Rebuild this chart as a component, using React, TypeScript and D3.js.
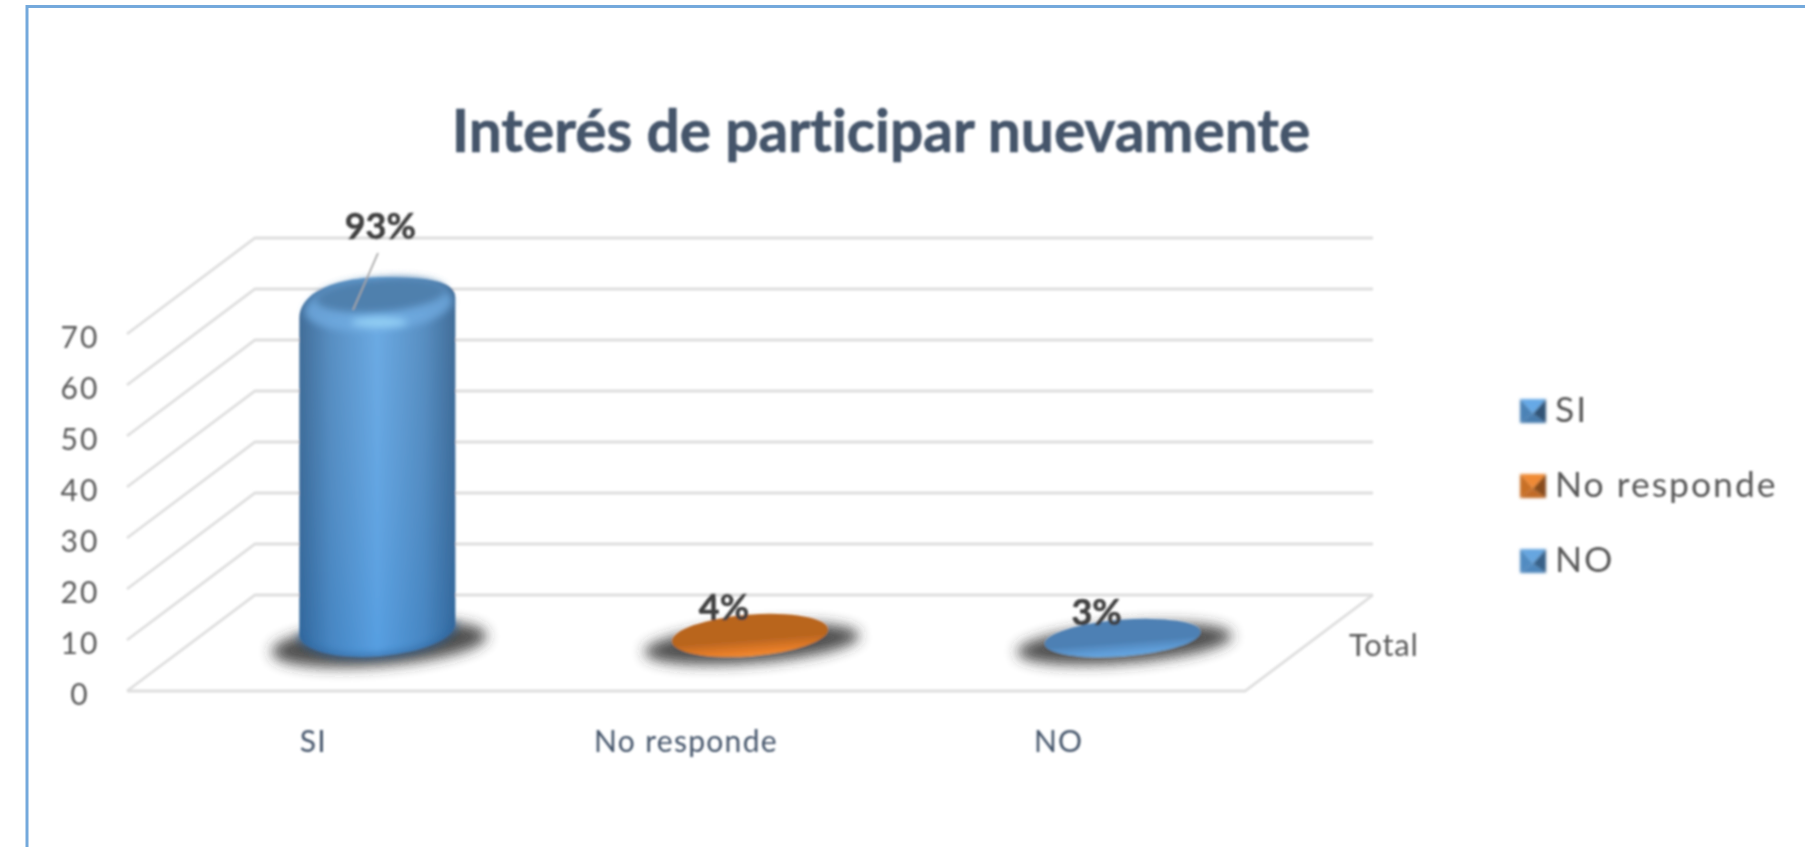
import React from "react";
import * as d3 from "d3";

// values
const categories = ["SI", "No responde", "NO"];
const counts = [67, 3, 2];
const percentLabels = ["93%", "4%", "3%"];
const yTicks = [0, 10, 20, 30, 40, 50, 60, 70];
const depthLabel = "Total";
const chartTitle = "Interés de participar nuevamente";

const palette: Record<string, { edge: string; mid: string; face: string; rim: string }> = {
  SI: { edge: "#35628f", mid: "#66a9e6", face: "#5080ad", rim: "#2f659c" },
  "No responde": { edge: "#a85a1c", mid: "#f08a35", face: "#b9651f", rim: "#e57c28" },
  NO: { edge: "#3f74a8", mid: "#66a6e0", face: "#4d80b4", rim: "#5f9dd8" },
};

const FONT = "Lato, 'Open Sans', sans-serif";
const TILT = -4.5;
const RX = 78;

// front plane of the floor, the back wall sits one depth step behind it
const depthX = 128;
const depthY = 96;
const floorLeft = 127;
const floorRight = 1245;

const y = d3.scaleLinear().domain([0, 70]).range([691, 334]);
const xFront = d3.scaleBand<string>().domain(categories).range([floorLeft, floorRight]);
const xMid = d3
  .scaleBand<string>()
  .domain(categories)
  .range([floorLeft + depthX / 2, floorRight + depthX / 2]);

const floorY = 646;
const tan = Math.tan((TILT * Math.PI) / 180);

function Shadow({ cx, tall }: { cx: number; tall: boolean }) {
  return (
    <ellipse
      cx={cx + 2}
      cy={floorY - 2}
      rx={RX + 30}
      ry={tall ? 22 : 19}
      fill="#2e2e2e"
      opacity={0.85}
      filter="url(#shadowBlur)"
      transform={`rotate(${TILT} ${cx} ${floorY})`}
    />
  );
}

function Cylinder({ cat, value }: { cat: string; value: number }) {
  const cx = xMid(cat)! + xMid.bandwidth() / 2;
  const ry = 27;
  const topCy = floorY - (y(0) - y(value));
  const botCy = floorY + 10 - ry;
  const dy = RX * tan;
  const id = cat.replace(/\s/g, "");
  const c = palette[cat];

  // the cap has a rounded bevel, so its shoulders are squarer than an ellipse
  const p = d3.path();
  p.moveTo(cx - RX, topCy + 14);
  p.bezierCurveTo(cx - RX, topCy - 12, cx - 42, topCy - 27, cx + 6, topCy - 27);
  p.bezierCurveTo(cx + 48, topCy - 27, cx + RX, topCy - 24, cx + RX, topCy - 7);
  p.lineTo(cx + RX, botCy + dy);
  const outline = `${p.toString()} A${RX},${ry} ${TILT} 1 1 ${cx - RX},${botCy - dy} Z`;

  return (
    <g>
      <Shadow cx={cx} tall />
      <path d={outline} fill={`url(#body-${id})`} />
      <path d={outline} fill="url(#tint)" />
      <path
        d={`M${cx + RX},${botCy + dy} A${RX},${ry} ${TILT} 0 1 ${cx - RX},${botCy - dy}`}
        fill="none"
        stroke={c.rim}
        strokeWidth={4}
        filter="url(#capBlur)"
      />
      <ellipse
        cx={cx + 1}
        cy={topCy + 2}
        rx={RX - 4}
        ry={ry - 2}
        fill="#72ade3"
        opacity={0.75}
        filter="url(#capBlur)"
        transform={`rotate(${TILT} ${cx} ${topCy})`}
      />
      <ellipse
        cx={cx + 4}
        cy={topCy - 9}
        rx={RX - 13}
        ry={17}
        fill={c.face}
        filter="url(#capBlur)"
        transform={`rotate(${TILT} ${cx} ${topCy})`}
      />
      <ellipse cx={cx + 2} cy={topCy + 18} rx={28} ry={5} fill="#9ad6f8" opacity={0.85} filter="url(#capBlur)" />
    </g>
  );
}

function Disc({ cat, value }: { cat: string; value: number }) {
  const cx = xMid(cat)! + xMid.bandwidth() / 2;
  const top = floorY - (y(0) - y(value)) - 17;
  const bottom = floorY + 11;
  const cy = (top + bottom) / 2;
  const ry = (bottom - top) / 2 - 1;
  const id = cat.replace(/\s/g, "");
  return (
    <g>
      <Shadow cx={cx} tall={false} />
      <ellipse
        cx={cx}
        cy={cy}
        rx={RX}
        ry={ry}
        fill={`url(#disc-${id})`}
        transform={`rotate(${TILT} ${cx} ${cy})`}
      />
    </g>
  );
}

function LegendKey({ cat, top }: { cat: string; top: number }) {
  const c = palette[cat];
  const x0 = 1520;
  const w = 26;
  const h = 24;
  const m = [x0 + w * 0.5, top + h * 0.6];
  const tl = [x0, top];
  const tr = [x0 + w, top];
  const br = [x0 + w, top + h];
  const bl = [x0, top + h];
  const tri = (a: number[], b: number[]) => [a, b, m].map((p) => p.join(",")).join(" ");
  return (
    <g filter="url(#keyBlur)">
      <polygon points={tri(tl, tr)} fill={c.mid} />
      <polygon points={tri(bl, tl)} fill={d3.interpolateRgb(c.edge, c.mid)(0.45)} />
      <polygon points={tri(br, bl)} fill={d3.interpolateRgb(c.edge, c.mid)(0.35)} />
      <polygon points={tri(tr, br)} fill={d3.interpolateRgb(c.edge, "#222")(0.25)} />
    </g>
  );
}

const legendTops = [399, 474, 549];

export default function App() {
  return (
    <svg width={1805} height={847} style={{ position: "absolute", left: 0, top: 0, background: "#fff" }}>
      <defs>
        <filter id="soft" x="-5%" y="-5%" width="110%" height="110%">
          <feGaussianBlur stdDeviation={0.85} />
        </filter>
        <filter id="keyBlur" x="-30%" y="-30%" width="160%" height="160%">
          <feGaussianBlur stdDeviation={1.2} />
        </filter>
        <filter id="shadowBlur" x="-30%" y="-80%" width="160%" height="260%">
          <feGaussianBlur stdDeviation={7} />
        </filter>
        <filter id="capBlur" x="-30%" y="-60%" width="160%" height="220%">
          <feGaussianBlur stdDeviation={3.5} />
        </filter>
        {categories.map((cat) => {
          const c = palette[cat];
          const id = cat.replace(/\s/g, "");
          return (
            <React.Fragment key={cat}>
              <linearGradient id={`body-${id}`} x1="0" x2="1" y1="0" y2="0">
                <stop offset="0" stopColor={c.edge} />
                <stop offset="0.2" stopColor={d3.interpolateRgb(c.edge, c.mid)(0.55)} />
                <stop offset="0.5" stopColor={c.mid} />
                <stop offset="0.8" stopColor={d3.interpolateRgb(c.edge, c.mid)(0.55)} />
                <stop offset="1" stopColor={c.edge} />
              </linearGradient>
              <linearGradient id={`disc-${id}`} x1="0" x2="0" y1="0" y2="1">
                <stop offset="0" stopColor={c.face} />
                <stop offset="0.6" stopColor={c.face} />
                <stop offset="0.88" stopColor={c.rim} />
                <stop offset="1" stopColor={c.mid} />
              </linearGradient>
            </React.Fragment>
          );
        })}
        <linearGradient id="tint" x1="0" x2="0" y1="0" y2="1">
          <stop offset="0" stopColor="#9fb9d0" stopOpacity={0.12} />
          <stop offset="1" stopColor="#1f78d0" stopOpacity={0.22} />
        </linearGradient>
      </defs>

      <rect x={27} y={6.5} width={1900} height={1000} fill="none" stroke="#74a9dc" strokeWidth={3} />

      <g filter="url(#soft)" style={{ fontVariantLigatures: "none" }}>
        <text
          x={881}
          y={152}
          textAnchor="middle"
          fontFamily={FONT}
          fontWeight={700}
          fontSize={58.6}
          stroke="#44546a"
          strokeWidth={0.6}
          fill="#44546a"
        >
          {chartTitle}
        </text>

        {/* walls and floor */}
        <g stroke="#dedede" strokeWidth={2.8} fill="none">
          {yTicks.map((t) => (
            <polyline
              key={t}
              points={`${floorLeft},${y(t)} ${floorLeft + depthX},${y(t) - depthY} ${floorRight + depthX},${y(t) - depthY}`}
            />
          ))}
          <polyline
            points={`${floorLeft},${y(0)} ${floorRight},${y(0)} ${floorRight + depthX},${y(0) - depthY}`}
          />
        </g>

        {yTicks.map((t) => (
          <text
            key={t}
            x={80}
            y={y(t) + 3}
            dy="0.36em"
            textAnchor="middle"
            fontFamily={FONT}
            fontSize={30}
            letterSpacing={2}
            fill="#595959"
          >
            {t}
          </text>
        ))}

        {categories.map((cat) => (
          <text
            key={cat}
            x={xFront(cat)! + xFront.bandwidth() / 2}
            y={752}
            textAnchor="middle"
            fontFamily={FONT}
            fontSize={30}
            letterSpacing={1.3}
            fill="#44546a"
          >
            {cat}
          </text>
        ))}

        <text x={1349} y={656} fontFamily={FONT} fontSize={31} letterSpacing={0.8} fill="#595959">
          {depthLabel}
        </text>

        {categories.map((cat, i) =>
          counts[i] > 10 ? (
            <Cylinder key={cat} cat={cat} value={counts[i]} />
          ) : (
            <Disc key={cat} cat={cat} value={counts[i]} />
          ),
        )}

        {/* 93% sits on a leader line, the two small ones sit on their discs */}
        <line x1={378} y1={253} x2={353} y2={310} stroke="#a6a6a6" strokeWidth={1.8} />
        {categories.map((cat, i) => {
          const cx = xMid(cat)! + xMid.bandwidth() / 2;
          const lift = i === 0 ? 78 : 24;
          return (
            <text
              key={cat}
              x={cx + (i === 0 ? 3 : -26)}
              y={floorY - (y(0) - y(counts[i])) - lift}
              dy="0.36em"
              textAnchor="middle"
              fontFamily={FONT}
              fontWeight={700}
              fontSize={36}
              stroke="#404040"
              strokeWidth={0.5}
              fill="#404040"
            >
              {percentLabels[i]}
            </text>
          );
        })}

        {categories.map((cat, i) => (
          <g key={cat}>
            <LegendKey cat={cat} top={legendTops[i]} />
            <text
              x={1555}
              y={legendTops[i] + 10}
              dy="0.36em"
              fontFamily={FONT}
              fontSize={35.5}
              letterSpacing={2}
              fill="#595959"
            >
              {cat}
            </text>
          </g>
        ))}
      </g>
    </svg>
  );
}
